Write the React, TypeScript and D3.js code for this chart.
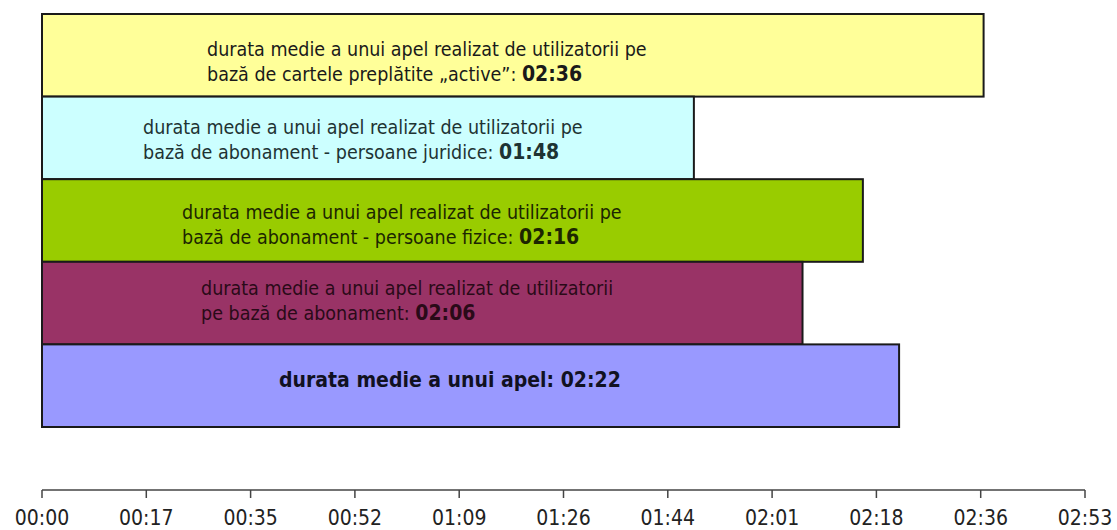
// Durata medie a unui apel - horizontal bar chart (D3 scales, JSX render)

import * as d3 from "d3";

// ---- data ----
const categories = [
  "cartele preplătite active",
  "abonament - persoane juridice",
  "abonament - persoane fizice",
  "abonament",
  "total",
];
// average call duration, seconds
const durations = [156, 108, 136, 126, 142];
// text inside each bar: plain lines, the last line ends with the bold value
const labelLines = [
  ["durata medie a unui apel realizat de utilizatorii pe", "bază de cartele preplătite „active”: "],
  ["durata medie a unui apel realizat de utilizatorii pe", "bază de abonament - persoane juridice: "],
  ["durata medie a unui apel realizat de utilizatorii pe", "bază de abonament - persoane fizice: "],
  ["durata medie a unui apel realizat de utilizatorii", "pe bază de abonament: "],
  ["durata medie a unui apel: "],
];
const tickLabels = [
  "00:00", "00:17", "00:35", "00:52", "01:09", "01:26",
  "01:44", "02:01", "02:18", "02:36", "02:53",
];
const axisMaxSeconds = 172.8; // 0.002 days, Excel style max

// ---- layout / style ----
const W = 1117;
const H = 530;
const colors = ["#ffff99", "#ccffff", "#99cc00", "#993366", "#9999ff"];
const textColors = ["#1a1a1a", "#1e3333", "#1c2600", "#2a0a18", "#111122"];
const labelX = [207, 143, 182, 201, 279];
const labelBaseline = [56, 134, 219, 295, 387];
const lineGap = 25;
const FONT = "'DejaVu Sans Condensed', 'DejaVu Sans', sans-serif";

const fmt = (s: number) => {
  const m = Math.floor(s / 60);
  const r = Math.round(s % 60);
  return `${String(m).padStart(2, "0")}:${String(r).padStart(2, "0")}`;
};

export default function App() {
  const x = d3.scaleLinear().domain([0, axisMaxSeconds]).range([42, 1085]);
  const y = d3.scaleBand<string>().domain(categories).range([14, 427]).padding(0);
  const axisY = 490;
  const step = axisMaxSeconds / (tickLabels.length - 1);

  return (
    <svg
      width={W}
      height={H}
      style={{ position: "absolute", left: 0, top: 0, background: "#fff" }}
      fontFamily={FONT}
    >
      {categories.map((c, i) => (
        <rect
          key={c}
          x={x(0)}
          y={y(c)}
          width={x(durations[i]) - x(0)}
          height={y.bandwidth()}
          fill={colors[i]}
          stroke="#1a1a1a"
          strokeWidth={2}
        />
      ))}

      {categories.map((c, i) => {
        const lines = labelLines[i];
        const single = lines.length === 1;
        return (
          <text
            key={"t" + c}
            fill={textColors[i]}
            fontSize={single ? 21 : 19.5}
            fontWeight={single ? "bold" : "normal"}
          >
            {lines.map((ln, j) => (
              <tspan key={j} x={labelX[i]} y={labelBaseline[i] + j * lineGap}>
                {ln}
                {j === lines.length - 1 && (
                  <tspan fontWeight="bold" fontSize={21}>{fmt(durations[i])}</tspan>
                )}
              </tspan>
            ))}
          </text>
        );
      })}

      {/* x axis */}
      <line x1={x(0)} x2={x(axisMaxSeconds)} y1={axisY} y2={axisY} stroke="#444" strokeWidth={1.5} />
      {tickLabels.map((t, i) => (
        <g key={t} transform={`translate(${x(i * step)},${axisY})`}>
          <line y1={0} y2={8} stroke="#444" strokeWidth={1.5} />
          <text y={35} textAnchor="middle" fontSize={21} fill="#222">
            {t}
          </text>
        </g>
      ))}
    </svg>
  );
}
